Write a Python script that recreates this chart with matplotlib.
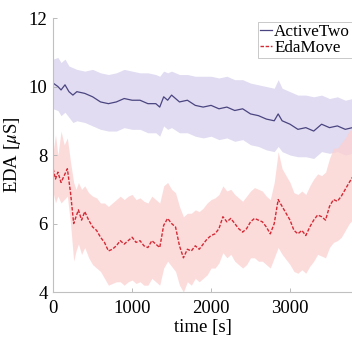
import matplotlib
matplotlib.use('Agg')
import matplotlib.pyplot as plt
import numpy as np

# ActiveTwo (mean and band)
t_a = [0, 60, 100, 150, 200, 250, 300, 400, 500, 600, 700, 800, 900, 1000, 1100, 1200,
       1300, 1350, 1400, 1450, 1500, 1600, 1700, 1800, 1900, 2000, 2100, 2200, 2300,
       2400, 2500, 2600, 2700, 2800, 2850, 2900, 3000, 3100, 3200, 3300, 3400, 3500,
       3600, 3700, 3790]
a_mean = [10.1, 10.0, 9.9, 10.05, 9.85, 9.75, 9.85, 9.8, 9.7, 9.55, 9.5, 9.55, 9.65, 9.6,
          9.6, 9.5, 9.5, 9.4, 9.7, 9.6, 9.75, 9.55, 9.6, 9.45, 9.4, 9.45, 9.35, 9.4, 9.3,
          9.35, 9.2, 9.15, 9.05, 9.0, 9.2, 9.0, 8.9, 8.75, 8.8, 8.7, 8.9, 8.8, 8.85, 8.75, 8.8]
a_upper = [10.8, 10.85, 10.7, 10.8, 10.6, 10.55, 10.5, 10.45, 10.5, 10.4, 10.35, 10.4, 10.5,
           10.45, 10.4, 10.4, 10.35, 10.3, 10.45, 10.4, 10.45, 10.35, 10.35, 10.3, 10.3, 10.3,
           10.25, 10.3, 10.2, 10.2, 10.1, 10.05, 10.0, 9.95, 10.2, 9.95, 9.85, 9.75, 9.75,
           9.7, 9.75, 9.65, 9.7, 9.6, 9.65]
a_lower = [9.35, 9.3, 9.15, 9.25, 9.1, 8.95, 9.0, 8.95, 8.85, 8.75, 8.7, 8.7, 8.8, 8.75,
           8.75, 8.65, 8.65, 8.55, 8.85, 8.75, 8.8, 8.65, 8.65, 8.55, 8.5, 8.55, 8.45, 8.5,
           8.4, 8.45, 8.3, 8.25, 8.15, 8.1, 8.25, 8.1, 8.0, 7.95, 7.95, 7.9, 8.1, 8.05,
           8.1, 8.0, 8.05]

# EdaMove (mean and band)
t_e = [0, 30, 60, 100, 140, 180, 220, 260, 290, 320, 360, 400, 450, 500, 550, 600, 650,
       700, 750, 800, 850, 900, 950, 1000, 1050, 1100, 1150, 1200, 1250, 1300, 1350, 1400,
       1450, 1500, 1550, 1600, 1650, 1700, 1750, 1800, 1850, 1900, 1950, 2000, 2050, 2100,
       2150, 2200, 2250, 2300, 2350, 2400, 2450, 2500, 2550, 2600, 2650, 2700, 2750, 2800,
       2850, 2900, 2950, 3000, 3050, 3100, 3150, 3200, 3250, 3300, 3350, 3400, 3450, 3500,
       3550, 3600, 3650, 3700, 3750, 3790]
e_mean = [7.6, 7.3, 7.5, 7.2, 7.4, 7.6, 6.9, 6.0, 6.2, 6.4, 6.1, 6.35, 6.1, 5.9, 5.8, 5.6,
          5.45, 5.2, 5.25, 5.35, 5.5, 5.4, 5.5, 5.6, 5.45, 5.5, 5.35, 5.3, 5.5, 5.4, 5.3, 5.95,
          6.15, 6.0, 5.9, 5.35, 5.0, 5.25, 5.2, 5.35, 5.25, 5.4, 5.55, 5.65, 5.7, 5.85, 6.2,
          6.05, 6.15, 6.0, 5.85, 5.75, 5.85, 6.05, 6.15, 6.1, 6.05, 5.9, 5.7, 6.0, 6.7, 6.5,
          6.3, 6.1, 5.8, 5.7, 5.8, 5.65, 5.9, 6.1, 6.25, 6.2, 6.1, 6.5, 6.7, 6.65, 6.8, 7.0,
          7.2, 7.35]
e_upper = [8.1, 8.6, 8.0, 8.7, 8.3, 8.5, 7.8, 7.2, 7.0, 7.2, 7.0, 7.1, 6.9, 6.8, 6.75, 6.6,
           6.6, 6.5, 6.6, 6.7, 6.8, 6.7, 6.8, 6.85, 6.7, 6.75, 6.65, 6.6, 6.8, 6.7, 6.6, 7.1,
           7.2, 7.0, 6.9, 6.5, 6.2, 6.3, 6.3, 6.4, 6.35, 6.45, 6.6, 6.7, 6.75, 6.85, 7.1, 6.95,
           7.0, 6.85, 6.75, 6.65, 6.8, 6.95, 7.05, 7.0, 6.95, 6.8, 6.7, 7.2, 8.1, 7.6, 7.4,
           7.2, 6.9, 6.85, 6.95, 6.85, 7.1, 7.3, 7.45, 7.4, 7.5, 7.9, 8.2, 8.2, 8.35, 8.5,
           8.7, 8.8]
e_lower = [6.9, 6.6, 6.8, 6.6, 6.7, 6.8, 6.0, 4.9, 5.2, 5.4, 5.1, 5.3, 5.0, 4.8, 4.7, 4.6,
           4.4, 4.2, 4.25, 4.3, 4.3, 4.2, 4.3, 4.35, 4.25, 4.3, 4.2, 4.2, 4.4, 4.3, 4.2, 4.7,
           4.9, 4.75, 4.6, 4.2, 4.0, 4.3, 4.2, 4.4, 4.3, 4.4, 4.5, 4.7, 4.7, 4.85, 5.15, 5.0,
           5.1, 4.9, 4.8, 4.7, 4.8, 5.0, 5.0, 4.9, 4.9, 4.8, 4.7, 5.0, 5.3, 5.1, 4.95, 4.8,
           4.6, 4.55, 4.65, 4.55, 4.75, 4.9, 5.1, 5.05, 5.0, 5.3, 5.45, 5.5, 5.6, 5.8,
           6.0, 6.1]

plt.rcParams['font.family'] = ['Liberation Serif', 'DejaVu Serif']
plt.rcParams['mathtext.fontset'] = 'stix'

fig = plt.figure(figsize=(3.52, 3.40), dpi=100)
ax = fig.add_axes([0.151, 0.141, 0.849, 0.806])

ax.fill_between(t_a, a_lower, a_upper, color='#dcd6ef', alpha=0.85, linewidth=0)
ax.fill_between(t_e, e_lower, e_upper, color='#fcd0d0', alpha=0.75, linewidth=0)
ax.plot(t_a, a_mean, color='#4a4580', linewidth=0.9, label='ActiveTwo')
ax.plot(t_e, e_mean, color='#d42a35', linewidth=1.0, linestyle=(0, (2.5, 1.2)), label='EdaMove')

ax.set_xlim(0, 3785)
ax.set_ylim(4, 12)
ax.set_xticks([0, 1000, 2000, 3000])
ax.set_yticks([4, 6, 8, 10, 12])
ax.set_xlabel('time [s]', fontsize=13.5, labelpad=1)
ax.set_ylabel(r'EDA [$\mu$S]', fontsize=13.5, labelpad=4)
ax.tick_params(direction='in', length=3, width=0.6, color='#b0b0b0', labelsize=13.5, pad=4)
ax.tick_params(axis='x', pad=6)

for side in ['top', 'right']:
    ax.spines[side].set_visible(False)
for side in ['left', 'bottom']:
    ax.spines[side].set_color('#c0c0c0')
    ax.spines[side].set_linewidth(0.8)

leg = ax.legend(loc='upper left', bbox_to_anchor=(0.685, 0.985), fontsize=12.3,
                handlelength=0.7, handletextpad=0.15, borderpad=0.1, labelspacing=0.0,
                borderaxespad=0, fancybox=False, framealpha=1)
leg.get_frame().set_edgecolor('#c0c0c0')
leg.get_frame().set_linewidth(0.6)

fig.savefig('out.png', dpi=100)
